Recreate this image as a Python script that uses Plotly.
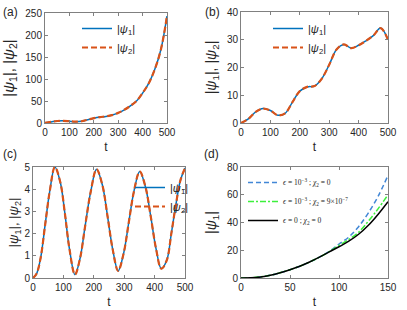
import plotly.graph_objects as go

W, H = 407, 310

# ---- data ----
t_a = [0, 25, 50, 75, 100, 125, 150, 175, 200, 225, 250, 275, 300, 325, 350, 375, 400, 425, 450, 475, 500]
psi_a = [0.5, 2.5, 4.5, 5, 4, 3, 4, 7.5, 11, 13.5, 15, 18, 23, 30, 39, 50, 68, 90, 122, 167, 243]

t_b = [0, 25, 50, 75, 100, 125, 150, 175, 200, 225, 250, 275, 300, 325, 350, 375, 400, 425, 450, 475, 500]
psi_b = [0, 1.5, 4, 5.2, 4.5, 2.8, 3.5, 7.5, 11.5, 13, 13.3, 16, 21, 26.5, 28.3, 27, 28, 29.6, 31.5, 34.2, 30]

t_c = [0, 12, 25, 40, 55, 72, 90, 105, 120, 138, 155, 170, 190, 209, 228, 245, 262, 280, 298, 315,
       332, 351, 370, 387, 405, 422, 440, 455, 470, 485, 500]
psi_c = [0, 0.2, 0.9, 2.4, 3.9, 5.0, 4.3, 2.9, 1.3, 0.15, 0.9, 2.2, 3.9, 4.9, 4.2, 2.8, 1.3, 0.32, 1.1, 2.5,
         3.9, 4.8, 4.1, 2.8, 1.3, 0.42, 0.8, 2.0, 3.3, 4.4, 4.95]

t_d = [0, 10, 20, 30, 40, 50, 60, 70, 80, 90, 100, 110, 120, 130, 140, 150]
psi_d_eps = [0, 0.1, 0.8, 2, 3.8, 6, 8.5, 11.5, 15, 19.2, 24.5, 29.5, 37, 47, 59, 74]
psi_d_chi = [0, 0.1, 0.8, 2, 3.8, 6, 8.5, 11.5, 15, 19, 23.5, 27.8, 33, 41, 50, 60]
psi_d_zero = [0, 0.1, 0.8, 2, 3.8, 6, 8.5, 11.5, 15, 18.8, 22.5, 26.5, 31.5, 38, 46, 55]

lbl1 = "|<i>ψ</i><sub>1</sub>|"
lbl2 = "|<i>ψ</i><sub>2</sub>|"
ylab = "|<i>ψ</i><sub>1</sub>|, |<i>ψ</i><sub>2</sub>|"
d_labels = ["<i>ϵ</i> = 10<sup>−3</sup> ; <i>χ</i><sub>2</sub> = 0",
            "<i>ϵ</i> = 10<sup>−3</sup> ; <i>χ</i><sub>2</sub> = 9×10<sup>−7</sup>",
            "<i>ϵ</i> = 0 ; <i>χ</i><sub>2</sub> = 0"]

BLUE = "#0072BD"
ORANGE = "#D95319"

fig = go.Figure()

def px_dom(a, b, total):
    return [a / total, b / total]

def py_dom(top, bot):
    return [1 - bot / H, 1 - top / H]

def pair(t, y, xa, ya, leg):
    fig.add_trace(go.Scatter(x=t, y=y, mode="lines", name=lbl1, line=dict(color=BLUE, width=1.5, shape="spline"),
                             xaxis=xa, yaxis=ya, legend=leg))
    fig.add_trace(go.Scatter(x=t, y=y, mode="lines", name=lbl2,
                             line=dict(color=ORANGE, width=2.2, dash="6px,3px", shape="spline"),
                             xaxis=xa, yaxis=ya, legend=leg))

pair(t_a, psi_a, "x", "y", "legend")
pair(t_b, psi_b, "x2", "y2", "legend2")
pair(t_c, psi_c, "x3", "y3", "legend3")

fig.add_trace(go.Scatter(x=t_d, y=psi_d_eps, mode="lines", name=d_labels[0],
                         line=dict(color="#4287d6", width=1.5, dash="5px,3px", shape="spline"),
                         xaxis="x4", yaxis="y4", legend="legend4"))
fig.add_trace(go.Scatter(x=t_d, y=psi_d_chi, mode="lines", name=d_labels[1],
                         line=dict(color="#3cf03c", width=1.5, dash="6px,2px,2px,2px", shape="spline"),
                         xaxis="x4", yaxis="y4", legend="legend4"))
fig.add_trace(go.Scatter(x=t_d, y=psi_d_zero, mode="lines", name=d_labels[2],
                         line=dict(color="black", width=1.5, shape="spline"),
                         xaxis="x4", yaxis="y4", legend="legend4"))

axcol = "#808080"
FAM = "Liberation Sans, Arial, sans-serif"
tickfont = dict(family=FAM, size=10, color="#262626")
titlefont = dict(family=FAM, size=12, color="#262626")

def xaxis(dom, anchor, rng, dtick):
    return dict(domain=dom, anchor=anchor, range=rng, dtick=dtick, showgrid=False, zeroline=False,
                automargin=False,
                showline=True, linecolor=axcol, linewidth=1, mirror="ticks", ticks="inside", ticklen=3,
                tickcolor=axcol, tickfont=tickfont, title=dict(text="t", font=titlefont, standoff=5))

def yaxis(dom, anchor, rng, dtick, title, standoff, size):
    return dict(domain=dom, anchor=anchor, range=rng, dtick=dtick, showgrid=False, zeroline=False,
                automargin=False,
                showline=True, linecolor=axcol, linewidth=1, mirror="ticks", ticks="inside", ticklen=3,
                tickcolor=axcol, tickfont=tickfont,
                title=dict(text=title, font=dict(family=FAM, size=size, color="#262626"), standoff=standoff))

legfont = dict(family=FAM, size=11, color="#262626")
legfont_d = dict(family="Liberation Serif, Times New Roman, serif", size=7.5, color="#262626")

def leg(x, ytop, font):
    return dict(x=x / W, y=1 - ytop / H, xanchor="left", yanchor="top", bgcolor="rgba(0,0,0,0)",
                font=font, tracegroupgap=0, itemwidth=30)

fig.update_layout(
    template="none",
    width=W, height=H, margin=dict(l=0, r=0, t=0, b=0, autoexpand=False),
    paper_bgcolor="white", plot_bgcolor="white",
    xaxis=xaxis(px_dom(45, 167, W), "y", [0, 500], 100),
    yaxis=yaxis(py_dom(13, 123), "x", [0, 250], 50, ylab, 8, 15),
    xaxis2=xaxis(px_dom(241, 388, W), "y2", [0, 500], 100),
    yaxis2=yaxis(py_dom(12, 123), "x2", [0, 40], 10, ylab, 6, 14),
    xaxis3=xaxis(px_dom(33, 185, W), "y3", [0, 500], 100),
    yaxis3=yaxis(py_dom(167, 278), "x3", [0, 5], 1, ylab, 2, 13),
    xaxis4=xaxis(px_dom(241, 388, W), "y4", [0, 150], 50),
    yaxis4=yaxis(py_dom(167, 278), "x4", [0, 80], 20, lbl1, 6, 14),
    legend=leg(77, 14, legfont),
    legend2=leg(268, 14, legfont),
    legend3=leg(130, 173, legfont),
    legend4=leg(243, 168, legfont_d),
    showlegend=True,
)

lab_font = dict(family=FAM, size=12, color="#262626")
for txt, x, y in [("(a)", 1, 12), ("(b)", 203, 12), ("(c)", 1, 154), ("(d)", 202, 154)]:
    fig.add_annotation(text=txt, x=x / W, y=1 - y / H, xref="paper", yref="paper", showarrow=False,
                       xanchor="left", yanchor="middle", font=lab_font)

fig.write_html("out.html", config={"displayModeBar": False},
               post_script="document.body.style.margin='0';document.body.style.padding='0';")
